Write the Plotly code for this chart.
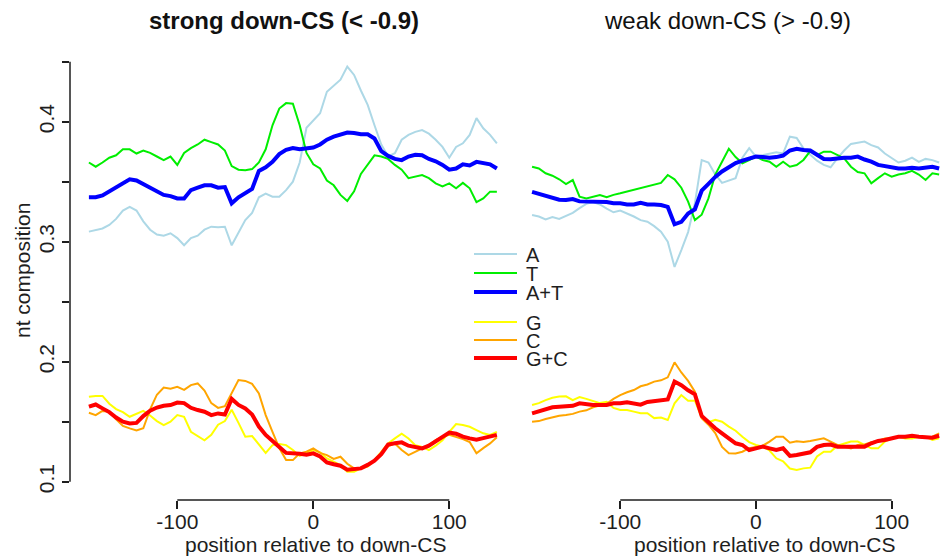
import plotly.graph_objects as go

# positions relative to down-CS (nt)
positions = list(range(-165, 136, 5))

# strong down-CS (< -0.9)
strong_A = [0.3084, 0.3097, 0.311, 0.314, 0.319, 0.326, 0.329, 0.326, 0.317, 0.310,
            0.306, 0.305, 0.307, 0.303, 0.297, 0.303, 0.305, 0.310, 0.3125, 0.312,
            0.3125, 0.297, 0.307, 0.318, 0.324, 0.337, 0.340, 0.3375, 0.3375, 0.343,
            0.350, 0.366, 0.395, 0.401, 0.407, 0.425, 0.430, 0.435, 0.446, 0.439,
            0.426, 0.414, 0.397, 0.381, 0.371, 0.3737, 0.385, 0.389, 0.3915, 0.393,
            0.390, 0.385, 0.379, 0.370, 0.379, 0.382, 0.389, 0.403, 0.3945, 0.389,
            0.382]
strong_T = [0.366, 0.3625, 0.366, 0.370, 0.372, 0.377, 0.377, 0.3735, 0.376, 0.374,
            0.371, 0.368, 0.371, 0.364, 0.374, 0.378, 0.381, 0.385, 0.383, 0.381,
            0.376, 0.363, 0.360, 0.3595, 0.3605, 0.366, 0.377, 0.397, 0.411, 0.4155,
            0.415, 0.397, 0.374, 0.3645, 0.361, 0.351, 0.347, 0.339, 0.334, 0.342,
            0.3565, 0.364, 0.372, 0.371, 0.369, 0.364, 0.360, 0.353, 0.354, 0.3556,
            0.353, 0.3486, 0.346, 0.3486, 0.3445, 0.349, 0.3445, 0.333, 0.336, 0.3417,
            0.3417]
strong_AT = [0.337, 0.337, 0.3385, 0.342, 0.3455, 0.349, 0.352, 0.351, 0.348, 0.345,
             0.342, 0.339, 0.338, 0.336, 0.336, 0.343, 0.345, 0.347, 0.347, 0.345,
             0.3455, 0.332, 0.337, 0.341, 0.344, 0.359, 0.362, 0.3665, 0.373, 0.3765,
             0.378, 0.377, 0.3775, 0.3785, 0.381, 0.385, 0.3875, 0.389, 0.391, 0.3905,
             0.3895, 0.3895, 0.386, 0.3755, 0.3715, 0.369, 0.368, 0.371, 0.3725, 0.372,
             0.369, 0.367, 0.364, 0.360, 0.361, 0.3645, 0.3635, 0.3665, 0.3655, 0.3645,
             0.361]
strong_G = [0.1708, 0.1715, 0.1715, 0.165, 0.1605, 0.158, 0.1541, 0.1565, 0.159, 0.1552,
            0.1505, 0.1472, 0.150, 0.1555, 0.154, 0.1416, 0.138, 0.1345, 0.139, 0.1475,
            0.1505, 0.160, 0.149, 0.1375, 0.138, 0.131, 0.124, 0.1305, 0.1315, 0.1305,
            0.1264, 0.1215, 0.1236, 0.1264, 0.1245, 0.1194, 0.1166, 0.1139, 0.1083, 0.1083,
            0.1111, 0.1125, 0.118, 0.1245, 0.1319, 0.1361, 0.140, 0.136, 0.1305, 0.129,
            0.1264, 0.130, 0.1345, 0.1416, 0.148, 0.1472, 0.1458, 0.1430, 0.1403, 0.1389,
            0.1416]
strong_C = [0.1575, 0.1555, 0.159, 0.1583, 0.152, 0.1465, 0.1444, 0.1428, 0.1445, 0.1603,
            0.1725, 0.1785, 0.1775, 0.179, 0.1765, 0.1805, 0.1819, 0.176, 0.1655, 0.1615,
            0.163, 0.1735, 0.1847, 0.184, 0.1815, 0.1736, 0.1555, 0.1416, 0.128, 0.118,
            0.118, 0.1236, 0.125, 0.1278, 0.124, 0.1222, 0.119, 0.1208, 0.115, 0.1111,
            0.1115, 0.1145, 0.1175, 0.124, 0.1295, 0.1319, 0.1264, 0.1222, 0.125, 0.128,
            0.1305, 0.1347, 0.1375, 0.139, 0.1375, 0.1355, 0.133, 0.1236, 0.128, 0.1319,
            0.137]
strong_GC = [0.1625, 0.1643, 0.1611, 0.158, 0.1535, 0.150, 0.1486, 0.149, 0.1547, 0.1592,
             0.1618, 0.1633, 0.1639, 0.166, 0.1655, 0.1616, 0.1597, 0.1583, 0.1555, 0.1569,
             0.156, 0.169, 0.164, 0.161, 0.156, 0.146, 0.139, 0.1345, 0.129, 0.124,
             0.1232, 0.1232, 0.1225, 0.1236, 0.121, 0.116, 0.1145, 0.1133, 0.110, 0.1108,
             0.1111, 0.114, 0.1175, 0.123, 0.131, 0.132, 0.1328, 0.130, 0.129, 0.1278,
             0.130, 0.134, 0.137, 0.141, 0.140, 0.1375, 0.1361, 0.135, 0.1363, 0.1375,
             0.139]

# weak down-CS (> -0.9)
weak_A = [0.3222, 0.321, 0.3185, 0.3205, 0.319, 0.3215, 0.324, 0.328, 0.3315, 0.333,
          0.331, 0.3275, 0.3245, 0.326, 0.3236, 0.321, 0.318, 0.3167, 0.313, 0.3084,
          0.300, 0.279, 0.293, 0.308, 0.332, 0.368, 0.366, 0.356, 0.349, 0.351,
          0.353, 0.370, 0.378, 0.3709, 0.3722, 0.3736, 0.3745, 0.3736, 0.3875, 0.3865,
          0.3778, 0.3725, 0.3675, 0.364, 0.362, 0.3695, 0.376, 0.3815, 0.3825, 0.3834,
          0.3805, 0.3785, 0.3735, 0.3695, 0.366, 0.3675, 0.370, 0.3665, 0.369, 0.368,
          0.366]
weak_T = [0.3625, 0.361, 0.357, 0.355, 0.352, 0.348, 0.3514, 0.3375, 0.336, 0.3375,
          0.3389, 0.337, 0.339, 0.3403, 0.3417, 0.343, 0.3445, 0.3459, 0.3473, 0.349,
          0.3556, 0.352, 0.345, 0.3334, 0.318, 0.3225, 0.3361, 0.356, 0.3667, 0.3775,
          0.3705, 0.3653, 0.3681, 0.3709, 0.3681, 0.3667, 0.3625, 0.3667, 0.3625, 0.3639,
          0.3681, 0.3755, 0.3722, 0.375, 0.375, 0.3722, 0.3695, 0.3625, 0.358, 0.357,
          0.3487, 0.353, 0.357, 0.3542, 0.356, 0.357, 0.359, 0.356, 0.3514, 0.357,
          0.356]
weak_AT = [0.3415, 0.340, 0.3385, 0.3365, 0.335, 0.3347, 0.3355, 0.3336, 0.3334, 0.334,
           0.3334, 0.333, 0.332, 0.332, 0.3311, 0.331, 0.3325, 0.3311, 0.331, 0.3306,
           0.329, 0.3145, 0.3165, 0.3235, 0.327, 0.3425, 0.3482, 0.354, 0.3585, 0.3625,
           0.3655, 0.3675, 0.3695, 0.3709, 0.3705, 0.370, 0.3705, 0.3718, 0.376, 0.3775,
           0.3764, 0.376, 0.3725, 0.369, 0.3688, 0.3695, 0.370, 0.370, 0.3709, 0.3685,
           0.3667, 0.364, 0.3631, 0.362, 0.3611, 0.3611, 0.3617, 0.3611, 0.3617, 0.3625,
           0.361]
weak_G = [0.1639, 0.1655, 0.168, 0.170, 0.171, 0.1712, 0.168, 0.1705, 0.169, 0.1672,
          0.1655, 0.1665, 0.1615, 0.1598, 0.1598, 0.1584, 0.157, 0.157, 0.153, 0.1535,
          0.1514, 0.1653, 0.1722, 0.1675, 0.1675, 0.1535, 0.1495, 0.1515, 0.150, 0.1459,
          0.1425, 0.1375, 0.133, 0.1306, 0.1292, 0.126, 0.1195, 0.117, 0.111, 0.1098,
          0.1111, 0.1117, 0.121, 0.125, 0.125, 0.130, 0.132, 0.1334, 0.1334, 0.1306,
          0.1278, 0.1278, 0.1334, 0.1361, 0.1375, 0.1361, 0.1361, 0.1375, 0.1375, 0.1347,
          0.1361]
weak_C = [0.150, 0.1505, 0.1522, 0.1535, 0.155, 0.1556, 0.1565, 0.1584, 0.1595, 0.162,
          0.1635, 0.165, 0.169, 0.1722, 0.1745, 0.1764, 0.1795, 0.181, 0.1834, 0.1845,
          0.187, 0.1995, 0.191, 0.184, 0.175, 0.1528, 0.1475, 0.1405, 0.129, 0.1238,
          0.1236, 0.125, 0.128, 0.1292, 0.130, 0.1334, 0.1375, 0.1375, 0.1325, 0.1337,
          0.133, 0.1339, 0.1347, 0.1361, 0.1334, 0.1306, 0.1292, 0.1278, 0.1306, 0.1311,
          0.1328, 0.1339, 0.1361, 0.1361, 0.1375, 0.1375, 0.1375, 0.1375, 0.1367, 0.1375,
          0.1403]
weak_GC = [0.157, 0.1585, 0.160, 0.162, 0.1625, 0.163, 0.1632, 0.1653, 0.1645, 0.1639,
           0.1639, 0.1639, 0.1653, 0.1653, 0.1662, 0.1653, 0.1642, 0.1665, 0.167, 0.1681,
           0.1685, 0.1835, 0.1804, 0.1762, 0.1728, 0.1548, 0.1495, 0.1445, 0.1403, 0.1358,
           0.132, 0.1306, 0.1264, 0.1278, 0.1292, 0.1278, 0.1264, 0.1278, 0.1215, 0.1222,
           0.1236, 0.1245, 0.129, 0.1306, 0.131, 0.1292, 0.1292, 0.1292, 0.1284, 0.1292,
           0.132, 0.134, 0.1347, 0.1361, 0.1375, 0.1375, 0.1383, 0.1375, 0.1375, 0.1367,
           0.1383]

panel_titles = ["strong down-CS (< -0.9)", "weak down-CS (> -0.9)"]
x_title = "position relative to down-CS"
y_title = "nt composition"
x_ticks = [-100, 0, 100]
x_ticktext = ["-100", "0", "100"]
y_ticks = [0.10, 0.15, 0.20, 0.25, 0.30, 0.35, 0.40, 0.45]
y_ticktext = ["0.1", "", "0.2", "", "0.3", "", "0.4", ""]

series_names = ["A", "T", "A+T", "G", "C", "G+C"]
series_colors = ["#add8e6", "#00ee00", "#0000ff", "#ffff00", "#ffa500", "#ff0000"]
series_widths = [2, 2, 4, 2, 2, 4]

W, H = 942, 558
FONT = "Liberation Sans, Arial, sans-serif"
INK = "#1e1e1e"


def fx(px):
    return px / W


def fy(py):
    return 1 - py / H


fig = go.Figure()

panels = [
    ("x", "y", [strong_A, strong_T, strong_AT, strong_G, strong_C, strong_GC]),
    ("x2", "y2", [weak_A, weak_T, weak_AT, weak_G, weak_C, weak_GC]),
]
for xa, ya, values in panels:
    for name, vals, col, lw in zip(series_names, values, series_colors, series_widths):
        fig.add_trace(go.Scatter(
            x=positions, y=vals, mode="lines", name=name, xaxis=xa, yaxis=ya,
            line=dict(color=col, width=lw), showlegend=False, hoverinfo="skip",
        ))

y_range = [0.08475, 0.46808]
y_domain = [fy(500), fy(40)]
tickfont = dict(family=FONT, size=21, color=INK)

xaxis_common = dict(tickvals=x_ticks, ticktext=x_ticktext, ticks="outside", ticklen=8,
                    tickwidth=1.5, tickcolor=INK, tickfont=tickfont, ticklabelstandoff=-5,
                    showgrid=False, zeroline=False, showline=False)

fig.update_layout(
    width=W, height=H,
    margin=dict(l=0, r=0, t=0, b=0),
    paper_bgcolor="white", plot_bgcolor="white",
    xaxis=dict(domain=[fx(70), fx(517)], range=[-178.9, 149.8], anchor="y", **xaxis_common),
    xaxis2=dict(domain=[fx(525), 1.0], range=[-170.2, 137.1], anchor="y2", **xaxis_common),
    yaxis=dict(domain=y_domain, range=y_range, anchor="x",
               tickvals=y_ticks, ticktext=y_ticktext, ticks="outside", ticklen=7,
               tickwidth=1.5, tickcolor=INK, tickfont=tickfont, tickangle=-90,
               showgrid=False, zeroline=False, showline=False),
    yaxis2=dict(domain=y_domain, range=y_range, anchor="x2", matches="y",
                showticklabels=False, ticks="", showgrid=False, zeroline=False,
                showline=False),
)

# R-style axis lines spanning only the tick range
axis_line = dict(color=INK, width=1.5)
fig.add_shape(type="line", xref="x domain", yref="y", x0=0, x1=0,
              y0=y_ticks[0], y1=y_ticks[-1], line=axis_line)
fig.add_shape(type="line", xref="x", yref="y domain", x0=x_ticks[0], x1=x_ticks[-1],
              y0=0, y1=0, line=axis_line)
fig.add_shape(type="line", xref="x2", yref="y2 domain", x0=x_ticks[0], x1=x_ticks[-1],
              y0=0, y1=0, line=axis_line)

# panel titles
fig.add_annotation(text="<b>" + panel_titles[0] + "</b>", xref="paper", yref="paper",
                   x=fx(284), y=fy(20), showarrow=False, xanchor="center", yanchor="middle",
                   font=dict(family=FONT, size=24, color="#111"))
fig.add_annotation(text=panel_titles[1], xref="paper", yref="paper",
                   x=fx(727), y=fy(20), showarrow=False, xanchor="center", yanchor="middle",
                   font=dict(family=FONT, size=24, color="#111"))

# axis titles
for cx in (315, 764):
    fig.add_annotation(text=x_title, xref="paper", yref="paper", x=fx(cx), y=fy(544),
                       showarrow=False, xanchor="center", yanchor="middle",
                       font=dict(family=FONT, size=21, color=INK))
fig.add_annotation(text=y_title, xref="paper", yref="paper", x=fx(22), y=fy(271),
                   showarrow=False, textangle=-90, xanchor="center", yanchor="middle",
                   font=dict(family=FONT, size=21, color=INK))

# legend keys
legend_rows = [254, 273, 292, 322, 340, 358]
for name, col, lw, row in zip(series_names, series_colors, series_widths, legend_rows):
    fig.add_shape(type="line", xref="paper", yref="paper", x0=fx(474), x1=fx(517),
                  y0=fy(row), y1=fy(row), line=dict(color=col, width=lw))
    fig.add_annotation(text=name, xref="paper", yref="paper", x=fx(524), y=fy(row + 1),
                       showarrow=False, xanchor="left", yanchor="middle",
                       font=dict(family=FONT, size=20, color=INK))

fig.write_html("out.html")
